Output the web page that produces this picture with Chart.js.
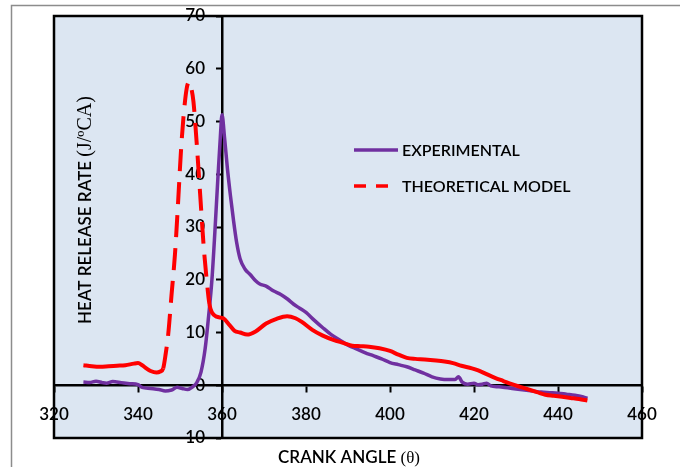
<!DOCTYPE html>
<html>
<head>
<meta charset="utf-8">
<script src="https://cdn.jsdelivr.net/npm/chart.js@4.4.1/dist/chart.umd.min.js"></script>
<style>
html, body { margin: 0; padding: 0; background: #fff; }
#caixa { width: 680px; height: 467px; }
</style>
</head>
<body>
<div id="caixa"><canvas id="grafico" width="680" height="467"></canvas></div>
<script>
// valores
let anguloExp = [327, 328.5, 330, 331.5, 332.5, 334, 336, 338, 340, 341, 343, 345, 346.5, 348, 349.3, 350.5, 351.8, 353,
    354, 355, 356, 356.8, 357.6, 358.3, 359, 359.6, 360, 360.6, 361.3, 362, 362.7, 363.5, 364.3, 365.5, 366.7, 368, 369, 370.5,
    372.2, 374, 375.5, 377, 378.5, 380, 382, 384, 386, 388, 390, 392, 394, 396, 398, 400, 402, 404, 406, 408, 410, 412,
    414, 415.5, 416.3, 417.2, 418.5, 420, 421, 422, 423, 424, 426, 428, 430, 432, 434, 436, 438, 440, 442, 444, 446, 447];
let taxaExp = [0.6, 0.5, 0.75, 0.5, 0.4, 0.7, 0.5, 0.3, 0.1, -0.4, -0.6, -0.8, -1.1, -0.9, -0.4, -0.6, -0.8, -0.3,
    0.5, 2.5, 7, 13, 20, 29, 39, 47, 51.3, 47, 41, 36, 31.5, 27, 24, 22, 21, 19.8, 19.2, 18.8,
    17.9, 17.2, 16.4, 15.4, 14.6, 13.8, 12.3, 10.9, 9.6, 8.6, 7.6, 6.9, 6.2, 5.6, 5, 4.3, 3.9, 3.5, 2.9, 2.3, 1.6, 1.2,
    1.1, 1.1, 1.6, 0.6, 0.2, 0.4, 0.1, 0.2, 0.4, -0.1, -0.3, -0.5, -0.7, -0.9, -1.1, -1.3, -1.4, -1.5, -1.7, -1.9, -2.2, -2.5];

let anguloTeo = [327, 329, 331, 333, 335, 337, 339, 340, 341, 342, 343, 344.4, 345.3, 346, 346.6, 347.2, 348, 348.8, 349.5,
    350.2, 350.8, 351.6, 352.2, 352.7, 353.2, 354, 354.8, 355.6, 356.3, 357, 357.6, 358.7, 360.3, 361.8, 363, 364.3, 366, 368, 370.5,
    373, 375.5, 377.5, 379, 381.5, 384, 386.5, 389, 391, 393, 395, 397.5, 400, 402, 404, 406, 408.3, 411, 413, 415, 417,
    419.5, 421, 423, 425, 427, 429, 431, 433, 435, 437, 439, 441, 443, 445, 447];
let taxaTeo = [3.8, 3.6, 3.5, 3.6, 3.7, 3.8, 4.1, 4.2, 3.8, 3.2, 2.7, 2.4, 2.6, 3.2, 6, 9.7, 17.3, 24.8, 34,
    44, 50.6, 56.3, 57.5, 56.3, 53.8, 45.6, 36.2, 26.7, 20.4, 15.4, 13.8, 13, 12.7, 11.4, 10.3, 10, 9.6, 10.2, 11.7,
    12.6, 13.1, 12.7, 12, 10.5, 9.4, 8.6, 8, 7.5, 7.4, 7.3, 7, 6.5, 5.8, 5.2, 5, 4.9, 4.7, 4.5, 4.2, 3.7,
    3.2, 2.8, 2.1, 1.4, 0.8, 0.2, -0.3, -0.8, -1.3, -1.8, -2, -2.2, -2.4, -2.6, -2.9];

let ticksX = [320, 340, 360, 380, 400, 420, 440, 460];
let ticksY = [-10, 0, 10, 20, 30, 40, 50, 60, 70];

let fonteTexto = "Lato, 'Liberation Sans', sans-serif";

function pontos(xs, ys){
    return xs.map(function(a, i){ return {x: a, y: ys[i]}; });
}

const moldura = {
    id: 'moldura',
    beforeDraw(chart){
        const {ctx, chartArea: a} = chart;
        ctx.save();
        ctx.fillStyle = '#fff';
        ctx.fillRect(0, 0, chart.width, chart.height);
        ctx.strokeStyle = '#8c8c8c';
        ctx.lineWidth = 1.5;
        ctx.beginPath();
        ctx.moveTo(11.5, chart.height);
        ctx.lineTo(11.5, 5.5);
        ctx.lineTo(chart.width, 5.5);
        ctx.stroke();
        ctx.fillStyle = '#dce6f2';
        ctx.fillRect(a.left, a.top, a.right - a.left, a.bottom - a.top);
        ctx.restore();
    },
    afterDraw(chart){
        const {ctx, chartArea: a} = chart;
        ctx.save();
        // borda da area do grafico
        ctx.strokeStyle = '#000';
        ctx.lineWidth = 2.5;
        ctx.strokeRect(a.left, a.top, a.right - a.left, a.bottom - a.top);

        // titulo do eixo x
        ctx.fillStyle = '#000';
        ctx.textBaseline = 'middle';
        let parte1 = 'CRANK ANGLE ';
        let parte2 = '(\u03b8)';
        ctx.font = '600 17px ' + fonteTexto;
        let w1 = ctx.measureText(parte1).width;
        ctx.font = '17px "Liberation Serif", serif';
        let w2 = ctx.measureText(parte2).width;
        let inicio = 349 - (w1 + w2) / 2;
        ctx.font = '600 17px ' + fonteTexto;
        ctx.textAlign = 'left';
        ctx.fillText(parte1, inicio, 458);
        ctx.font = '17px "Liberation Serif", serif';
        ctx.fillText(parte2, inicio + w1, 459);

        // titulo do eixo y
        ctx.translate(86, 210);
        ctx.rotate(-Math.PI / 2);
        let t1 = 'HEAT RELEASE RATE ';
        let t2 = '(J/\u00baCA)';
        ctx.font = '600 17px ' + fonteTexto;
        let l1 = ctx.measureText(t1).width;
        ctx.font = '20px "Liberation Serif", serif';
        let l2 = ctx.measureText(t2).width;
        let ini = -(l1 + l2) / 2;
        ctx.font = '600 17px ' + fonteTexto;
        ctx.fillText(t1, ini, 0);
        ctx.font = '20px "Liberation Serif", serif';
        ctx.fillText(t2, ini + l1, 0);
        ctx.restore();

        // legenda
        ctx.save();
        const sets = chart.data.datasets;
        let linhas = [150, 186];
        sets.forEach(function(ds, i){
            ctx.strokeStyle = ds.borderColor;
            ctx.lineWidth = 3.5;
            ctx.setLineDash(ds.legendaDash);
            ctx.beginPath();
            ctx.moveTo(354, linhas[i]);
            ctx.lineTo(398, linhas[i]);
            ctx.stroke();
            ctx.setLineDash([]);
            ctx.fillStyle = '#000';
            ctx.font = '600 16px ' + fonteTexto;
            ctx.textAlign = 'left';
            ctx.textBaseline = 'middle';
            ctx.fillText(ds.label, 402, linhas[i] + 1);
        });
        ctx.restore();
    }
};

let ctx = document.getElementById('grafico').getContext('2d');

let grafico = new Chart(ctx, {
    type: 'line',
    data: {
        datasets: [{
            label: 'EXPERIMENTAL',
            data: pontos(anguloExp, taxaExp),
            borderColor: '#7030a0',
            borderWidth: 3.5,
            pointRadius: 0,
            cubicInterpolationMode: 'monotone',
            legendaDash: [],
            order: 1
        }, {
            label: 'THEORETICAL MODEL',
            data: pontos(anguloTeo, taxaTeo),
            borderColor: '#ff0000',
            borderWidth: 4,
            pointRadius: 0,
            cubicInterpolationMode: 'monotone',
            legendaDash: [12, 10],
            order: 0,
            segment: {
                borderDash: function(c){
                    return (c.p0.parsed.x >= 346 && c.p1.parsed.x <= 357) ? [22, 11] : undefined;
                }
            }
        }]
    },
    options: {
        responsive: false,
        animation: false,
        layout: { padding: { left: 54, right: 38, top: 16, bottom: 29 } },
        plugins: { legend: { display: false }, tooltip: { enabled: false } },
        scales: {
            x: {
                type: 'linear',
                min: 320,
                max: 460,
                position: { y: 0 },
                afterBuildTicks: function(s){ s.ticks = ticksX.map(function(v){ return {value: v}; }); },
                ticks: { color: '#000', font: { family: fonteTexto, size: 17, weight: '600' }, padding: 13, maxRotation: 0 },
                grid: { drawOnChartArea: false, tickLength: 6, tickColor: '#000', tickWidth: 2 },
                border: { color: '#000', width: 2.5 }
            },
            y: {
                min: -10,
                max: 70,
                position: { x: 360 },
                afterBuildTicks: function(s){ s.ticks = ticksY.map(function(v){ return {value: v}; }); },
                ticks: {
                    color: '#000',
                    font: { family: fonteTexto, size: 17, weight: '600' },
                    // o eixo posicionado nao afasta os rotulos, entao uso espacos
                    callback: function(v){ return v + '    '; }
                },
                grid: { drawOnChartArea: false, tickLength: 5, tickColor: '#000', tickWidth: 2 },
                border: { color: '#000', width: 2.5 }
            }
        }
    },
    plugins: [moldura]
});
</script>
</body>
</html>
